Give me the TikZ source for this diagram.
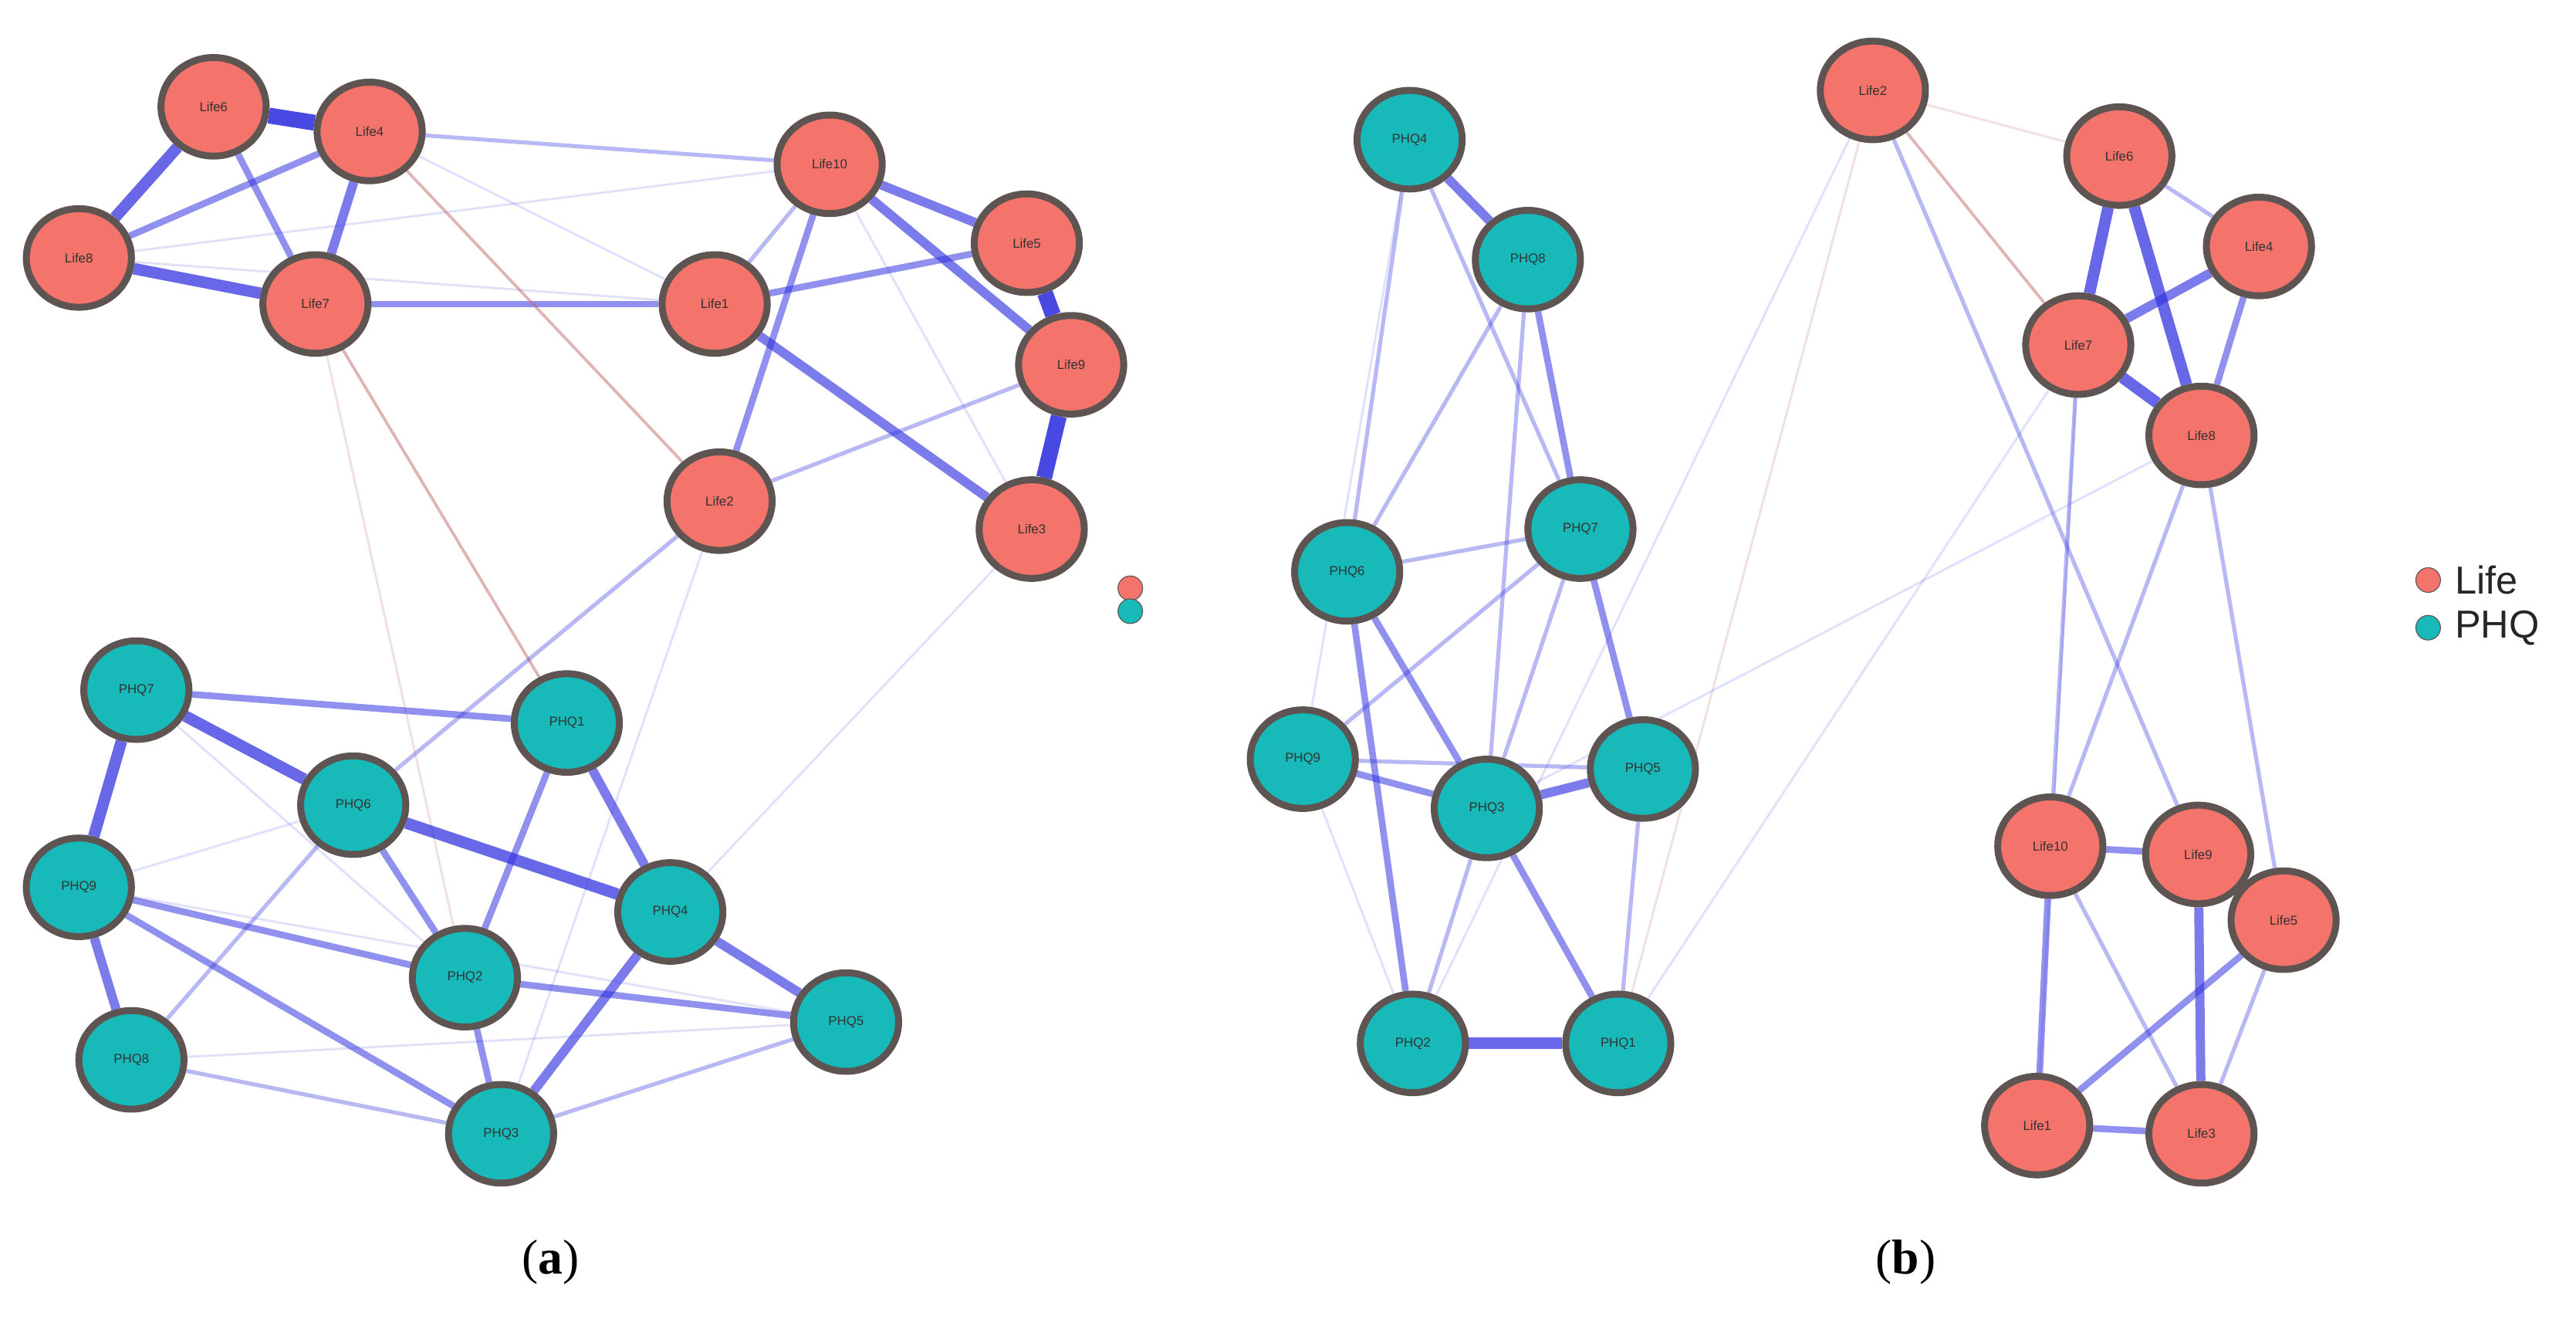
\documentclass[tikz,border=0pt]{standalone}
\usepackage{fontspec}
\setmainfont{Liberation Serif}
\newfontfamily\legfont{Liberation Sans}
\usetikzlibrary{shapes.geometric,backgrounds}
\definecolor{lifec}{HTML}{F4736A}
\definecolor{phqc}{HTML}{17B9B9}
\definecolor{ringc}{HTML}{5E5452}
\definecolor{edgec}{HTML}{3434E0}
\definecolor{negc}{HTML}{C06A6A}
\tikzset{
 nd/.style={ellipse,minimum width=1.28cm,minimum height=1.2cm,draw=ringc,line width=2.4pt,inner sep=0pt,font=\legfont\fontsize{4.5}{5}\selectfont,text=black!80},
 lf/.style={nd,fill=lifec},
 pq/.style={nd,fill=phqc},
 ea/.style={edgec,line width=0.8pt,opacity=0.15},
 eb/.style={edgec,line width=1.4pt,opacity=0.35},
 ec/.style={edgec,line width=2.3pt,opacity=0.55},
 ed/.style={edgec,line width=3.2pt,opacity=0.65},
 ee/.style={edgec,line width=4pt,opacity=0.75},
 ef/.style={edgec,line width=5.5pt,opacity=0.9},
 en/.style={negc,line width=1pt,opacity=0.5},
 enf/.style={negc,line width=0.8pt,opacity=0.2},
 dot/.style={circle,draw=ringc,line width=0.3pt,minimum size=0.3cm,inner sep=0pt},
 leg/.style={anchor=west,font=\legfont\fontsize{13.5}{14}\selectfont,text=black!85,inner sep=0pt},
}
\begin{document}
\begin{tikzpicture}[x=0.02cm,y=-0.02cm]
\useasboundingbox (0,0) rectangle (1568,811);
% (a) Life
\node[lf] (aL6) at (130,65) {Life6};
\node[lf] (aL4) at (225,80) {Life4};
\node[lf] (aL8) at (48,157) {Life8};
\node[lf] (aL7) at (192,185) {Life7};
\node[lf] (aL10) at (505,100) {Life10};
\node[lf] (aL5) at (625,148) {Life5};
\node[lf] (aL1) at (435,185) {Life1};
\node[lf] (aL9) at (652,222) {Life9};
\node[lf] (aL2) at (438,305) {Life2};
\node[lf] (aL3) at (628,322) {Life3};
% (a) PHQ
\node[pq] (aP7) at (83,420) {PHQ7};
\node[pq] (aP1) at (345,440) {PHQ1};
\node[pq] (aP6) at (215,490) {PHQ6};
\node[pq] (aP9) at (48,540) {PHQ9};
\node[pq] (aP4) at (408,555) {PHQ4};
\node[pq] (aP2) at (283,595) {PHQ2};
\node[pq] (aP5) at (515,622) {PHQ5};
\node[pq] (aP8) at (80,645) {PHQ8};
\node[pq] (aP3) at (305,690) {PHQ3};
% (b) PHQ
\node[pq] (bP4) at (858,85) {PHQ4};
\node[pq] (bP8) at (930,158) {PHQ8};
\node[pq] (bP7) at (962,322) {PHQ7};
\node[pq] (bP6) at (820,348) {PHQ6};
\node[pq] (bP9) at (793,462) {PHQ9};
\node[pq] (bP5) at (1000,468) {PHQ5};
\node[pq] (bP3) at (905,492) {PHQ3};
\node[pq] (bP2) at (860,635) {PHQ2};
\node[pq] (bP1) at (985,635) {PHQ1};
% (b) Life
\node[lf] (bL2) at (1140,55) {Life2};
\node[lf] (bL6) at (1290,95) {Life6};
\node[lf] (bL4) at (1375,150) {Life4};
\node[lf] (bL7) at (1265,210) {Life7};
\node[lf] (bL8) at (1340,265) {Life8};
\node[lf] (bL10) at (1248,515) {Life10};
\node[lf] (bL9) at (1338,520) {Life9};
\node[lf] (bL5) at (1390,560) {Life5};
\node[lf] (bL1) at (1240,685) {Life1};
\node[lf] (bL3) at (1340,690) {Life3};
\begin{pgfonlayer}{background}
% (a) edges
\draw[ef] (aL6)--(aL4); \draw[ee] (aL6)--(aL8); \draw[ec] (aL6)--(aL7);
\draw[ec] (aL4)--(aL8); \draw[ed] (aL4)--(aL7); \draw[ee] (aL8)--(aL7);
\draw[eb] (aL4)--(aL10); \draw[ea] (aL8)--(aL10); \draw[ec] (aL7)--(aL1);
\draw[ea] (aL8)--(aL1); \draw[ea] (aL4)--(aL1); \draw[en] (aL4)--(aL2);
\draw[ed] (aL10)--(aL5); \draw[ed] (aL10)--(aL9); \draw[eb] (aL10)--(aL1);
\draw[ec] (aL10)--(aL2); \draw[ea] (aL10)--(aL3); \draw[ec] (aL1)--(aL5);
\draw[ed] (aL1)--(aL3); \draw[ef] (aL5)--(aL9); \draw[ef] (aL9)--(aL3);
\draw[eb] (aL2)--(aL9); \draw[en] (aL7)--(aP1); \draw[eb] (aL2)--(aP6);
\draw[ea] (aL2)--(aP3); \draw[ea] (aL3)--(aP4); \draw[enf] (aL7)--(aP2);
\draw[ec] (aP7)--(aP1); \draw[ee] (aP7)--(aP6); \draw[ee] (aP7)--(aP9);
\draw[ee] (aP6)--(aP4); \draw[ec] (aP6)--(aP2); \draw[ec] (aP1)--(aP2);
\draw[ed] (aP1)--(aP4); \draw[ed] (aP9)--(aP8); \draw[ec] (aP9)--(aP2);
\draw[ec] (aP9)--(aP3); \draw[ed] (aP4)--(aP5); \draw[ed] (aP4)--(aP3);
\draw[ec] (aP2)--(aP5); \draw[ec] (aP2)--(aP3); \draw[eb] (aP8)--(aP6);
\draw[eb] (aP8)--(aP3); \draw[eb] (aP3)--(aP5); \draw[ea] (aP9)--(aP6);
\draw[ea] (aP7)--(aP2); \draw[ea] (aP8)--(aP5); \draw[ea] (aP9)--(aP5);
% (b) edges
\draw[ed] (bP4)--(bP8); \draw[eb] (bP4)--(bP6); \draw[ec] (bP8)--(bP7);
\draw[eb] (bP8)--(bP6); \draw[eb] (bP4)--(bP7); \draw[eb] (bP6)--(bP7);
\draw[ec] (bP7)--(bP5); \draw[eb] (bP7)--(bP3); \draw[ec] (bP6)--(bP3);
\draw[ec] (bP6)--(bP2); \draw[eb] (bP9)--(bP5); \draw[ec] (bP9)--(bP3);
\draw[ed] (bP3)--(bP5); \draw[eb] (bP3)--(bP2); \draw[ec] (bP3)--(bP1);
\draw[ee] (bP2)--(bP1); \draw[eb] (bP5)--(bP1); \draw[ea] (bP9)--(bP2);
\draw[eb] (bP8)--(bP3); \draw[eb] (bP7)--(bP9); \draw[ea] (bP9)--(bP4);
\draw[enf] (bL2)--(bP1); \draw[ea] (bL7)--(bP1); \draw[ea] (bL8)--(bP3);
\draw[ea] (bL2)--(bP2);
\draw[en] (bL2)--(bL7); \draw[enf] (bL2)--(bL6); \draw[eb] (bL2)--(bL9);
\draw[ee] (bL6)--(bL7); \draw[ee] (bL6)--(bL8); \draw[eb] (bL6)--(bL4);
\draw[ed] (bL7)--(bL4); \draw[ee] (bL7)--(bL8); \draw[ec] (bL4)--(bL8);
\draw[eb] (bL7)--(bL10); \draw[ea] (bL7)--(bL1); \draw[eb] (bL8)--(bL10);
\draw[eb] (bL8)--(bL5); \draw[ec] (bL10)--(bL9); \draw[ec] (bL9)--(bL5);
\draw[ec] (bL10)--(bL1); \draw[eb] (bL10)--(bL3); \draw[ed] (bL9)--(bL3);
\draw[ec] (bL5)--(bL1); \draw[eb] (bL5)--(bL3); \draw[ec] (bL1)--(bL3);
\end{pgfonlayer}
% legends
\node[dot,fill=lifec] (la) at (688,358) {};
\node[dot,fill=phqc] (lb) at (688,372) {};
\node[dot,fill=lifec] (lc) at (1478,353) {};
\node[dot,fill=phqc] (ld) at (1478,382) {};
\node[leg] (lt1) at (1494,353) {Life};
\node[leg] (lt2) at (1494,382) {PHQ};
% captions
\node[font=\fontsize{17}{19}\selectfont] (ca) at (335,768) {(\textbf{a})};
\node[font=\fontsize{17}{19}\selectfont] (cb) at (1160,768) {(\textbf{b})};
\end{tikzpicture}
\end{document}
